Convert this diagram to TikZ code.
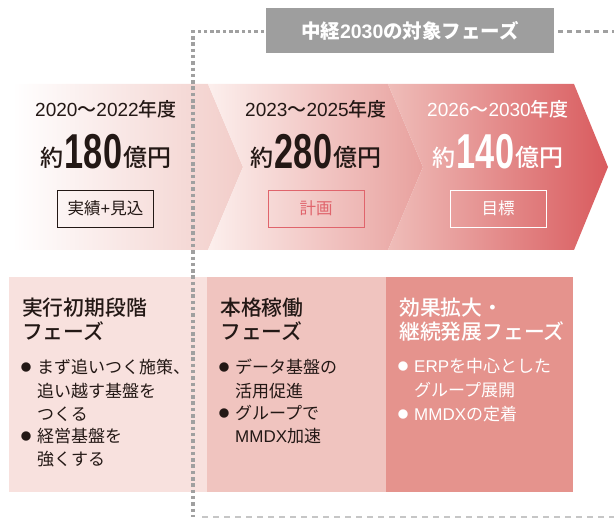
\documentclass[tikz,border=0pt]{standalone}
\usepackage{fontspec}
\setmainfont{Noto Sans CJK JP}
\newfontfamily\jpm{Noto Sans CJK JP Medium}
\newfontfamily\lat{Liberation Sans}
\definecolor{ink}{HTML}{231815}
\definecolor{dotg}{HTML}{A0A0A0}
\definecolor{dashg}{HTML}{C6C6C6}
\definecolor{labelg}{HTML}{9E9E9E}
\definecolor{sOneR}{HTML}{F2CDC9}
\definecolor{sTwoL}{HTML}{FCEFED}
\definecolor{sTwoR}{HTML}{E8A19E}
\definecolor{sThreeL}{HTML}{EFBDB9}
\definecolor{sThreeR}{HTML}{D95B5E}
\definecolor{bOne}{HTML}{F8E1DE}
\definecolor{bTwo}{HTML}{F0C4BF}
\definecolor{bThree}{HTML}{E5938D}
\definecolor{planred}{HTML}{E0646C}
\newcommand{\fsz}[1]{\fontsize{#1}{#1}\selectfont}
\newcommand{\bignum}[1]{\hspace{1pt}\scalebox{0.7}[1]{\fsz{49}\lat\bfseries #1}\hspace{1pt}}
\newcommand{\amount}[1]{\raisebox{2pt}{\fsz{23}\jpm 約}\bignum{#1}\raisebox{2pt}{\fsz{24}\jpm 億円}}
\newcommand{\yr}[2]{{\lat #1}～{\lat #2}年度}
\begin{document}
\begin{tikzpicture}[x=1pt,y=-1pt,
  yeartxt/.style={inner sep=0pt, font=\fsz{19}\jpm},
  amttxt/.style={inner sep=0pt, anchor=base},
  tagbox/.style={draw, line width=0.9pt, minimum width=96pt, minimum height=37pt, inner sep=0pt, font=\fsz{16.5}},
  ttl/.style={anchor=base west, inner sep=0pt, font=\fsz{20.8}\jpm},
  body/.style={anchor=base west, inner sep=0pt, font=\fsz{17}},
  bul/.style={inner sep=0pt, font=\fsz{10.5}},
  dotline/.style={dotg, line width=3.5pt, dash pattern=on 3.5pt off 2.8pt},
  dashline/.style={dashg, line width=2pt, dash pattern=on 6pt off 5pt}]
\useasboundingbox (0,0) rectangle (614,518);

% chevron band
\shade[left color=white, right color=sOneR]
  (12,84) -- (208,84) -- (243,167) -- (208,250) -- (12,250) -- cycle;
\shade[left color=sTwoL, right color=sTwoR]
  (208,84) -- (388,84) -- (423,167) -- (388,250) -- (208,250) -- (243,167) -- cycle;
\shade[left color=sThreeL, right color=sThreeR]
  (388,84) -- (574,84) -- (608,167) -- (574,250) -- (388,250) -- (423,167) -- cycle;

% lower phase boxes
\fill[bOne] (9,277) rectangle (207,492);
\fill[bTwo] (207,277) rectangle (386,492);
\fill[bThree] (386,277) rectangle (573,492);

% label and frame lines
\node[fill=labelg, minimum width=288pt, minimum height=45pt, inner sep=0pt,
  text=white, font=\fsz{19.5}\bfseries] (lab) at (410,30.5) {中経{\lat\bfseries 2030}の対象フェーズ};
\coordinate (tl) at (193,31.5);
\coordinate (bl) at (193,517);
\coordinate (labL) at (264,31.5);
\coordinate (labR) at (558,31.5);
\coordinate (tr) at (614,31.5);
\coordinate (br) at (614,517);
\draw[dotline] (labL) -- (tl) -- (bl);
\draw[dotline, dash pattern=on 5pt off 4pt] (labR) -- (tr);
\draw[dashline] (202,517) -- (br);

% segment 1
\node[yeartxt, text=ink] (y1) at (106,109) {\yr{2020}{2022}};
\node[amttxt, text=ink] (a1) at (106,169) {\amount{180}};
\node[tagbox, draw=ink, text=ink] (t1) at (105.5,208.5) {実績{\lat +}見込};
% segment 2
\node[yeartxt, text=ink] (y2) at (316,109) {\yr{2023}{2025}};
\node[amttxt, text=ink] (a2) at (316,169) {\amount{280}};
\node[tagbox, draw=planred, text=planred] (t2) at (316,208.5) {計画};
% segment 3
\node[yeartxt, text=white] (y3) at (498,109) {\yr{2026}{2030}};
\node[amttxt, text=white] (a3) at (498,169) {\amount{140}};
\node[tagbox, draw=white, text=white] (t3) at (498,208.5) {目標};

% box 1 text
\node[ttl, text=ink] (p1a) at (22,316) {実行初期段階};
\node[ttl, text=ink] (p1b) at (22,340) {フェーズ};
\node[bul, text=ink] (p1c) at (26,368) {●};
\node[body, text=ink] (p1d) at (37,374) {まず追いつく施策、};
\node[body, text=ink] (p1e) at (37,398) {追い越す基盤を};
\node[body, text=ink] (p1f) at (37,421) {つくる};
\node[bul, text=ink] (p1g) at (26,437) {●};
\node[body, text=ink] (p1h) at (37,443) {経営基盤を};
\node[body, text=ink] (p1i) at (37,466) {強くする};

% box 2 text
\node[ttl, text=ink] (p2a) at (220,316) {本格稼働};
\node[ttl, text=ink] (p2b) at (220,340) {フェーズ};
\node[bul, text=ink] (p2c) at (224,368) {●};
\node[body, text=ink] (p2d) at (235,374) {データ基盤の};
\node[body, text=ink] (p2e) at (235,398) {活用促進};
\node[bul, text=ink] (p2f) at (224,414) {●};
\node[body, text=ink] (p2g) at (235,420) {グループで};
\node[body, text=ink] (p2h) at (235,443) {{\lat MMDX}加速};

% box 3 text
\node[ttl, text=white] (p3a) at (399,316) {効果拡大・};
\node[ttl, text=white] (p3b) at (399,340) {継続発展フェーズ};
\node[bul, text=white] (p3c) at (403,367) {●};
\node[body, text=white] (p3d) at (414,373) {{\lat ERP}を中心とした};
\node[body, text=white] (p3e) at (414,397) {グループ展開};
\node[bul, text=white] (p3f) at (403,415) {●};
\node[body, text=white] (p3g) at (414,421) {{\lat MMDX}の定着};
\end{tikzpicture}
\end{document}
